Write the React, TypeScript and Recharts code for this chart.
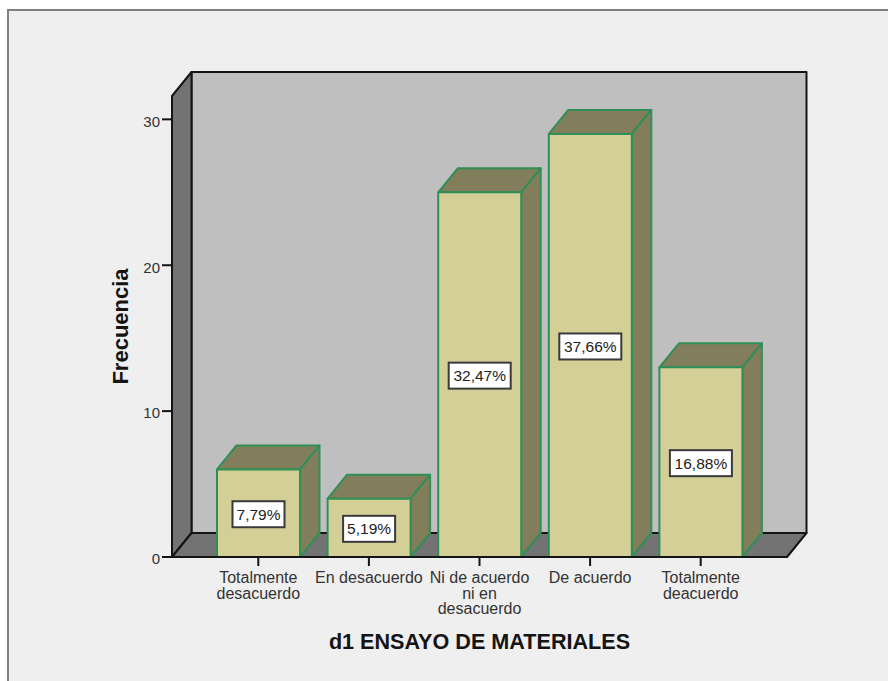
import { BarChart, Bar, XAxis, YAxis, LabelList, usePlotArea } from "recharts";

const FONT = '"Liberation Sans", Arial, sans-serif';
const categories = [
  "Totalmente\ndesacuerdo",
  "En desacuerdo",
  "Ni de acuerdo\nni en\ndesacuerdo",
  "De acuerdo",
  "Totalmente\ndeacuerdo",
];
const frecuencia = [6, 4, 25, 29, 13];
const porcentaje = ["7,79%", "5,19%", "32,47%", "37,66%", "16,88%"];
const yTicks = [0, 10, 20, 30];

const data = categories.map((name, i) => ({
  name,
  value: frecuencia[i],
  pct: porcentaje[i],
}));

// depth of the fake 3D extrusion
const DX = 19.5;
const DY = 24;
const EDGE = "#2f8f57";

function Walls() {
  const plot = usePlotArea();
  if (!plot) return null;
  const { x, y, width, height } = plot;
  const b = y + height;
  const r = x + width;
  return (
    <g stroke="#141414" strokeWidth={2} strokeLinejoin="round">
      <rect x={x + DX} y={y - DY} width={width} height={height} fill="#bfbfbf" />
      <polygon
        points={`${x},${y} ${x + DX},${y - DY} ${x + DX},${b - DY} ${x},${b}`}
        fill="#737373"
      />
      <polygon
        points={`${x},${b} ${x + DX},${b - DY} ${r + DX},${b - DY} ${r},${b}`}
        fill="#737373"
      />
    </g>
  );
}

function Box3D({ x, y, width, height }: any) {
  const r = x + width;
  const b = y + height;
  return (
    <g stroke={EDGE} strokeWidth={2} strokeLinejoin="round">
      <polygon
        points={`${x},${y} ${x + DX},${y - DY} ${r + DX},${y - DY} ${r},${y}`}
        fill="#827e5c"
      />
      <polygon
        points={`${r},${y} ${r + DX},${y - DY} ${r + DX},${b - DY} ${r},${b}`}
        fill="#827e5c"
      />
      <rect x={x} y={y} width={width} height={height} fill="#d3cf97" />
    </g>
  );
}

function PctLabel({ x, y, width, height, value }: any) {
  const w = String(value).length > 5 ? 62 : 52;
  const h = 26;
  const cx = x + width / 2;
  const cy = y + height / 2 + 1;
  return (
    <g>
      <rect
        x={cx - w / 2}
        y={cy - h / 2}
        width={w}
        height={h}
        fill="#fff"
        stroke="#3a3a3a"
        strokeWidth={2}
      />
      <text
        x={cx}
        y={cy + 5.5}
        textAnchor="middle"
        fontFamily={FONT}
        fontSize={15.5}
        fill="#222"
      >
        {value}
      </text>
    </g>
  );
}

function CategoryTick({ x, y, payload }: any) {
  return (
    <text
      x={x}
      y={y + 15}
      textAnchor="middle"
      fontFamily={FONT}
      fontSize={16}
      fill="#333"
    >
      {String(payload.value)
        .split("\n")
        .map((line, i) => (
          <tspan key={i} x={x} dy={i === 0 ? 0 : 15.5}>
            {line}
          </tspan>
        ))}
    </text>
  );
}

export default function App() {
  return (
    <div style={{ position: "absolute", left: 0, top: 0, width: 888, height: 681, background: "#fff" }}>
      <div
        style={{
          position: "absolute",
          left: 7,
          top: 9,
          width: 881,
          height: 672,
          boxSizing: "border-box",
          background: "#efefef",
          borderLeft: "2px solid #808080",
          borderTop: "2px solid #808080",
        }}
      />
      <div style={{ position: "absolute", left: 0, top: 0 }}>
        <BarChart
          width={888}
          height={681}
          data={data}
          margin={{ top: 96, right: 101, bottom: 64, left: 112 }}
        >
          <Walls />
          <XAxis
            dataKey="name"
            interval={0}
            height={60}
            padding={{ left: 31, right: 31 }}
            stroke="#141414"
            strokeWidth={2}
            tickSize={9}
            tick={<CategoryTick />}
            label={{
              value: "d1 ENSAYO DE MATERIALES",
              position: "insideBottom",
              offset: -32,
              fill: "#141414",
              fontFamily: FONT,
              fontSize: 21.6,
              fontWeight: 700,
            }}
          />
          <YAxis
            width={60}
            domain={[0, 31.6]}
            ticks={yTicks}
            stroke="#141414"
            strokeWidth={2}
            tickSize={10}
            tick={{ fill: "#333", fontFamily: FONT, fontSize: 15, dy: 2 }}
            label={{
              value: "Frecuencia",
              angle: -90,
              position: "insideLeft",
              offset: 8,
              textAnchor: "middle",
              fill: "#141414",
              fontFamily: FONT,
              fontSize: 22,
              fontWeight: 700,
            }}
          />
          <Bar dataKey="value" barSize={83} shape={<Box3D />} isAnimationActive={false}>
            <LabelList dataKey="pct" content={<PctLabel />} />
          </Bar>
        </BarChart>
      </div>
    </div>
  );
}
